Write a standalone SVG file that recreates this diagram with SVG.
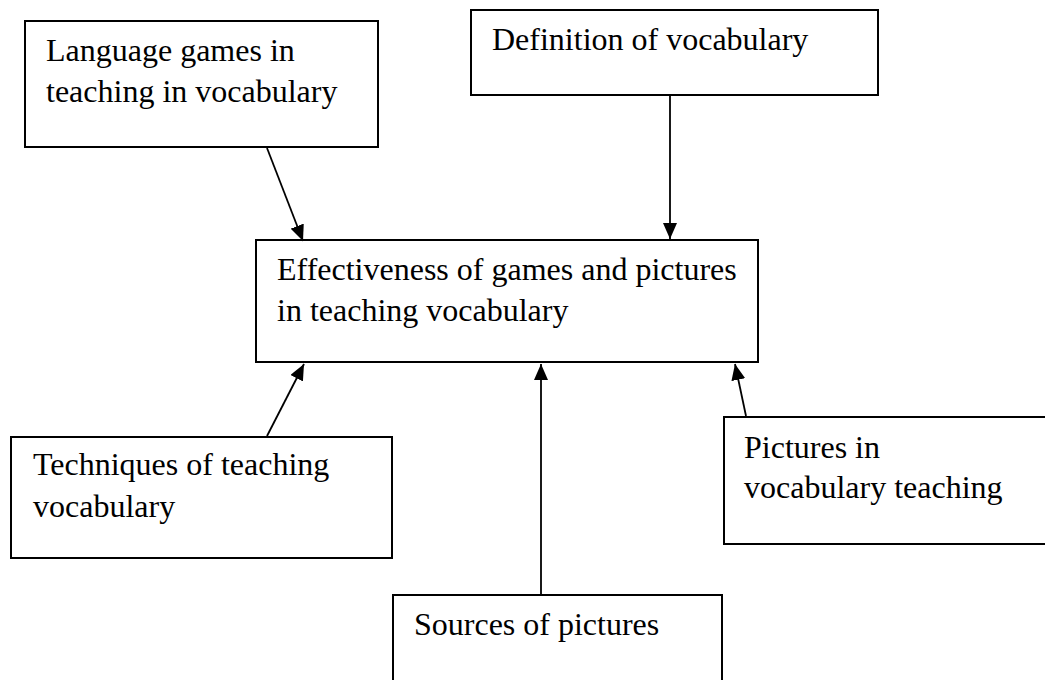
<svg xmlns="http://www.w3.org/2000/svg" width="1045" height="680" viewBox="0 0 1045 680">
<style>
.box{fill:#fff;stroke:#000;stroke-width:2}
.lbl{font-family:"Liberation Serif","Times New Roman",serif;font-size:32px;fill:#000}
.conn{stroke:#000;stroke-width:1.8;fill:none;marker-end:url(#ah)}
</style>
<defs>
<marker id="ah" markerUnits="userSpaceOnUse" markerWidth="17" markerHeight="14" refX="16" refY="7" orient="auto">
<path d="M0,0 L16,7 L0,14 Z" fill="#000"/>
</marker>
</defs>
<rect width="1045" height="680" fill="#fff"/>
<g id="n-language">
<rect class="box" x="25" y="21" width="353" height="126"/>
<text class="lbl" x="46" y="61">Language games in</text>
<text class="lbl" x="46" y="102">teaching in vocabulary</text>
</g>
<g id="n-definition">
<rect class="box" x="471" y="10" width="407" height="85"/>
<text class="lbl" x="492" y="50">Definition of vocabulary</text>
</g>
<g id="n-effectiveness">
<rect class="box" x="256" y="240" width="502" height="122"/>
<text class="lbl" x="277" y="280">Effectiveness of games and pictures</text>
<text class="lbl" x="277" y="321">in teaching vocabulary</text>
</g>
<g id="n-techniques">
<rect class="box" x="11" y="437" width="381" height="121"/>
<text class="lbl" x="33" y="475">Techniques of teaching</text>
<text class="lbl" x="33" y="517">vocabulary</text>
</g>
<g id="n-pictures">
<rect class="box" x="724" y="417" width="330" height="127"/>
<text class="lbl" x="744" y="458">Pictures in</text>
<text class="lbl" x="744" y="498">vocabulary teaching</text>
</g>
<g id="n-sources">
<rect class="box" x="393" y="595" width="329" height="100"/>
<text class="lbl" x="414" y="635">Sources of pictures</text>
</g>
<g id="connectors">
<line class="conn" x1="267" y1="148" x2="303" y2="241"/>
<line class="conn" x1="670" y1="96" x2="670" y2="239"/>
<line class="conn" x1="267" y1="436" x2="304" y2="364"/>
<line class="conn" x1="541" y1="594" x2="541" y2="364"/>
<line class="conn" x1="746" y1="416" x2="735" y2="364"/>
</g>
</svg>
